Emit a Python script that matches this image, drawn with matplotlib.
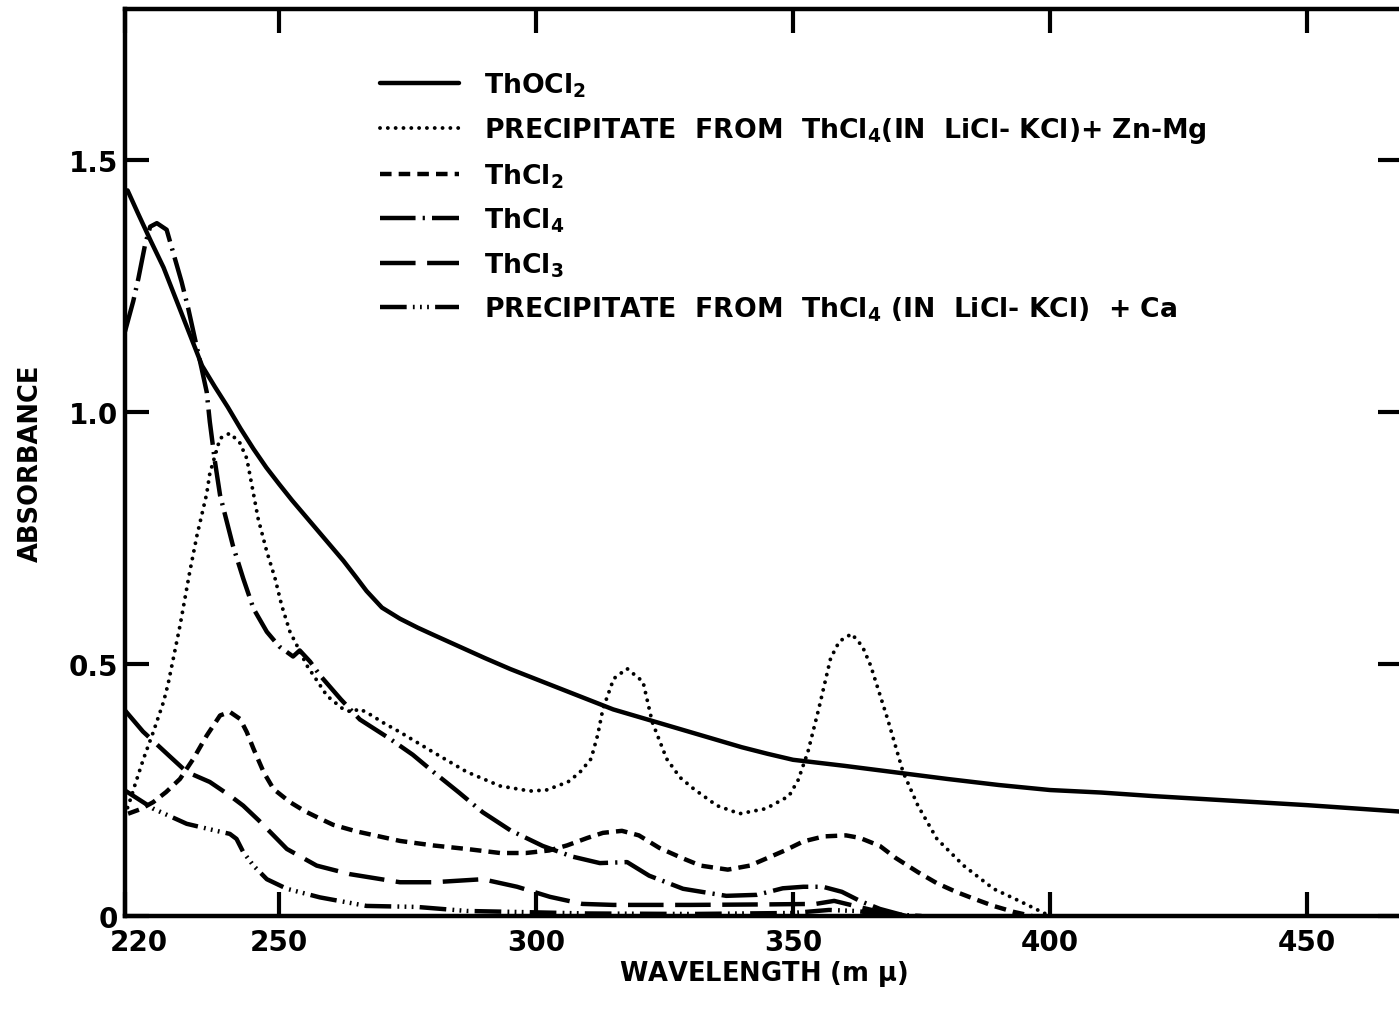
import matplotlib
matplotlib.use("Agg")
import matplotlib.pyplot as plt
import matplotlib.transforms as mtransforms

# absorbance spectra (wavelength in m-mu)
thocl2_x = [220.5, 222.5, 225, 227.5, 230, 232.5, 235, 237.5, 240, 242.5, 245,
            247.5, 250, 252.5, 255, 257.5, 260, 262.5, 265, 267, 270, 273.5, 277,
            280, 285, 290, 295, 300, 305, 310, 315, 320, 325, 330, 335, 340, 345,
            350, 355, 360, 370, 380, 390, 400, 410, 420, 430, 440, 450, 460, 468.5]
thocl2_y = [1.44, 1.395, 1.34, 1.287, 1.222, 1.157, 1.092, 1.05, 1.01, 0.967,
            0.927, 0.89, 0.857, 0.825, 0.795, 0.765, 0.735, 0.705, 0.672, 0.645,
            0.612, 0.59, 0.572, 0.558, 0.535, 0.512, 0.49, 0.47, 0.45, 0.43, 0.41,
            0.395, 0.38, 0.365, 0.35, 0.335, 0.322, 0.31, 0.304, 0.298, 0.285,
            0.272, 0.26, 0.25, 0.245, 0.238, 0.232, 0.226, 0.22, 0.213, 0.207]

znmg_x = [220.5, 221.3, 221.9, 223.6, 225.5, 227.5, 228.4, 230.7, 232.6, 234,
          235.9, 236.5, 238.5, 240.4, 242.3, 243.7, 245, 245.9, 247.6, 249.2,
          250.5, 252.1, 253.5, 255.4, 257.5, 259.3, 262.4, 264, 265.7, 268.2, 270,
          273.5, 280, 286.5, 293, 298.8, 302, 306.2, 308.5, 310.7, 312, 313, 315.1,
          317.7, 320.8, 322.6, 325.4, 328, 330.7, 335.2, 339.6, 344.7, 349.2, 351,
          352.9, 355, 357.3, 359, 361.4, 363.5, 365.1, 368.4, 371.4, 374.3, 378,
          383.2, 389, 394, 398, 400]
znmg_y = [0.215, 0.239, 0.259, 0.312, 0.365, 0.425, 0.461, 0.576, 0.683, 0.755,
          0.838, 0.878, 0.948, 0.958, 0.94, 0.908, 0.838, 0.789, 0.723, 0.67,
          0.616, 0.564, 0.536, 0.497, 0.465, 0.437, 0.411, 0.405, 0.411, 0.397,
          0.385, 0.365, 0.325, 0.286, 0.258, 0.248, 0.25, 0.266, 0.285, 0.312,
          0.36, 0.411, 0.471, 0.491, 0.465, 0.385, 0.312, 0.275, 0.252, 0.219,
          0.203, 0.213, 0.238, 0.27, 0.326, 0.411, 0.511, 0.545, 0.56, 0.535,
          0.497, 0.391, 0.286, 0.219, 0.153, 0.10, 0.054, 0.03, 0.01, 0.0]

thcl2_x = [220.6, 223, 225.5, 228, 230.7, 233.3, 235.9, 238.5, 240.4, 242.4, 243.7,
           245, 247, 248.9, 252.1, 255, 258, 260.5, 265, 273.5, 280, 286.5, 293,
           298, 302.5, 306, 310, 313, 316.7, 320, 324, 328.4, 332, 337.3, 341.6,
           345, 348.4, 352, 356, 360.3, 363, 366.9, 370, 374.3, 378, 381.7, 385,
           389, 393, 396.5]
thcl2_y = [0.203, 0.212, 0.226, 0.246, 0.272, 0.312, 0.358, 0.398, 0.405, 0.391,
           0.365, 0.332, 0.285, 0.252, 0.226, 0.208, 0.193, 0.181, 0.168, 0.149,
           0.14, 0.133, 0.125, 0.125, 0.13, 0.14, 0.155, 0.165, 0.169, 0.16, 0.135,
           0.115, 0.10, 0.092, 0.10, 0.115, 0.13, 0.148, 0.158, 0.16, 0.155, 0.139,
           0.115, 0.087, 0.065, 0.048, 0.035, 0.02, 0.008, 0.0]

thcl4_x = [220, 221.6, 222.6, 223.9, 224.9, 226.2, 228.1, 229.7, 231, 232.3, 233.6,
           234.9, 235.9, 236.5, 237.5, 238.5, 241, 243, 245, 247.6, 250, 252.7,
           254, 256, 258, 262, 265.7, 271.5, 276, 280, 285, 289.6, 295, 301.3, 307,
           312.4, 317.7, 322, 328.6, 337, 343, 348, 352, 355.8, 359.5, 363, 366.9,
           372]
thcl4_y = [1.16, 1.22, 1.265, 1.332, 1.368, 1.375, 1.362, 1.305, 1.259, 1.206,
           1.146, 1.087, 1.04, 0.981, 0.902, 0.835, 0.735, 0.67, 0.61, 0.564,
           0.535, 0.515, 0.527, 0.505, 0.477, 0.43, 0.39, 0.352, 0.32, 0.286,
           0.245, 0.206, 0.17, 0.139, 0.118, 0.105, 0.107, 0.08, 0.054, 0.04,
           0.042, 0.055, 0.058, 0.058, 0.048, 0.03, 0.014, 0.0]

thcl3_x = [220, 223.5, 228.8, 232, 236.5, 240.4, 243, 246, 248.9, 251.5, 257.3,
           263.8, 273.5, 280, 289.6, 296.3, 302.7, 309, 315, 330, 345, 354.4, 358,
           362, 366.9, 372]
thcl3_y = [0.408, 0.366, 0.316, 0.286, 0.266, 0.239, 0.219, 0.19, 0.16, 0.133,
           0.10, 0.083, 0.067, 0.067, 0.073, 0.058, 0.038, 0.024, 0.022, 0.022,
           0.023, 0.024, 0.03, 0.02, 0.008, 0.0]

ca_x = [220, 225.5, 232, 237.8, 240.4, 241.7, 243, 245, 247.6, 251.5, 257.9, 267,
        276.8, 286.5, 296.3, 310, 330, 350, 357, 362, 368, 375]
ca_y = [0.249, 0.213, 0.183, 0.169, 0.163, 0.153, 0.127, 0.10, 0.073, 0.054, 0.037,
        0.02, 0.018, 0.01, 0.008, 0.005, 0.004, 0.006, 0.012, 0.01, 0.004, 0.0]

labels = [r"ThOCl$_2$",
          r"PRECIPITATE  FROM  ThCl$_4$(IN  LiCl- KCl)+ Zn-Mg",
          r"ThCl$_2$",
          r"ThCl$_4$",
          r"ThCl$_3$",
          r"PRECIPITATE  FROM  ThCl$_4$ (IN  LiCl- KCl)  + Ca"]

xticks = [220, 250, 300, 350, 400, 450]
yticks = [0, 0.5, 1.0, 1.5]
ytick_labels = ["0", "0.5", "1.0", "1.5"]

plt.rcParams['font.family'] = ['DejaVu Sans']
plt.rcParams['font.weight'] = 'bold'
plt.rcParams['axes.labelweight'] = 'bold'
plt.rcParams['mathtext.fontset'] = 'custom'
plt.rcParams['mathtext.rm'] = 'DejaVu Sans:bold'
plt.rcParams['mathtext.bf'] = 'DejaVu Sans:bold'
plt.rcParams['mathtext.default'] = 'rm'

fig = plt.figure(figsize=(13.99, 10.12), dpi=100)
ax = fig.add_axes([125 / 1399, 95 / 1012, 1277 / 1399, 907 / 1012])

lw = 3.2
ax.plot(thocl2_x, thocl2_y, color='black', lw=lw, solid_capstyle='round', label=labels[0])
ax.plot(znmg_x, znmg_y, color='black', lw=2.8, ls=(0, (0.01, 2.0)),
        dash_capstyle='round', label=labels[1])
ax.plot(thcl2_x, thcl2_y, color='black', lw=lw, ls=(0, (2.6, 1.6)), label=labels[2])
ax.plot(thcl4_x, thcl4_y, color='black', lw=lw, ls=(0, (8, 1.6, 0.5, 1.6)), label=labels[3])
ax.plot(thcl3_x, thcl3_y, color='black', lw=lw, ls=(0, (8, 2.6)), label=labels[4])
ax.plot(ca_x, ca_y, color='black', lw=lw,
        ls=(0, (6, 1.4, 0.4, 1.2, 0.4, 1.2, 0.4, 1.4)), label=labels[5])

ax.set_xlim(220, 468.5)
ax.set_ylim(0, 1.8)
ax.set_xticks(xticks)
ax.set_xticklabels([str(t) for t in xticks])
ax.set_yticks(yticks)
ax.set_yticklabels(ytick_labels)
ax.tick_params(axis='both', direction='in', length=17, width=3, labelsize=20,
               top=True, right=True)
ax.tick_params(axis='x', pad=9)
ax.tick_params(axis='y', pad=5)
for s in ax.spines.values():
    s.set_linewidth(3.2)

# the "220" label sits a little right of the corner in the original
first = ax.get_xticklabels()[0]
first.set_transform(first.get_transform() +
                    mtransforms.ScaledTranslation(14 / 100, 0, fig.dpi_scale_trans))

ax.set_xlabel(r"WAVELENGTH (m $\mu$)", fontsize=18.5, fontweight='bold', labelpad=1)
ax.set_ylabel("ABSORBANCE", fontsize=18.5, fontweight='bold', labelpad=18)

leg = ax.legend(loc='upper left', bbox_to_anchor=(0.1997, 0.932), frameon=False,
                fontsize=19.2, handlelength=2.95, handletextpad=0.95,
                labelspacing=0.6, borderpad=0, borderaxespad=0)

fig.savefig("out.png", dpi=100)
